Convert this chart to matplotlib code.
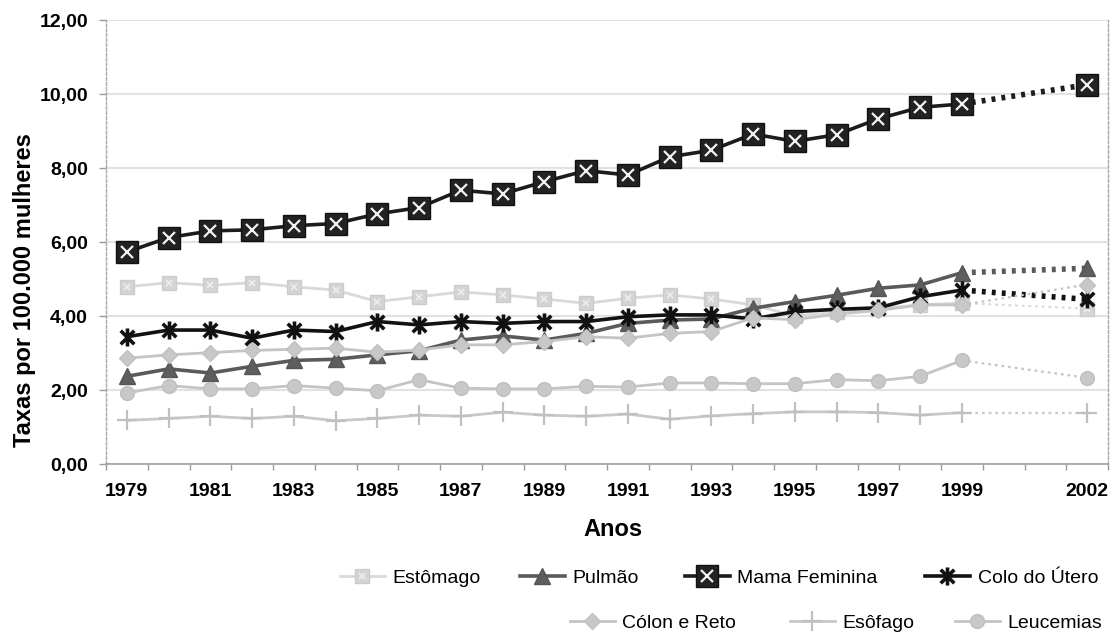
import matplotlib
matplotlib.use("Agg")
import matplotlib.pyplot as plt
from matplotlib.path import Path
from matplotlib.legend_handler import HandlerTuple
from matplotlib.lines import Line2D
import numpy as np

plt.rcParams['font.family'] = ['Liberation Sans', 'DejaVu Sans']

years = [1979, 1980, 1981, 1982, 1983, 1984, 1985, 1986, 1987, 1988, 1989,
         1990, 1991, 1992, 1993, 1994, 1995, 1996, 1997, 1998, 1999, 2002]

estomago = [4.79, 4.90, 4.83, 4.90, 4.79, 4.70, 4.39, 4.52, 4.65, 4.57, 4.46,
            4.34, 4.48, 4.57, 4.46, 4.30, 4.00, 4.10, 4.20, 4.30, 4.35, 4.20]
pulmao = [2.37, 2.57, 2.46, 2.64, 2.80, 2.83, 2.95, 3.06, 3.35, 3.46, 3.35,
          3.53, 3.80, 3.89, 3.92, 4.21, 4.39, 4.56, 4.75, 4.84, 5.17, 5.29]
mama = [5.73, 6.12, 6.30, 6.33, 6.44, 6.50, 6.76, 6.93, 7.40, 7.30, 7.63,
        7.93, 7.81, 8.30, 8.48, 8.92, 8.72, 8.90, 9.33, 9.64, 9.73, 10.25]
colo_utero = [3.44, 3.62, 3.62, 3.40, 3.62, 3.58, 3.85, 3.76, 3.85, 3.80, 3.85,
              3.85, 3.98, 4.03, 4.03, 3.92, 4.12, 4.18, 4.22, 4.52, 4.70, 4.45]
colon_reto = [2.86, 2.95, 3.01, 3.07, 3.10, 3.13, 3.02, 3.08, 3.22, 3.22, 3.31,
              3.44, 3.40, 3.53, 3.58, 3.95, 3.90, 4.05, 4.15, 4.30, 4.30, 4.85]
esofago = [1.18, 1.23, 1.29, 1.23, 1.29, 1.17, 1.23, 1.32, 1.29, 1.40, 1.32,
           1.29, 1.35, 1.21, 1.30, 1.36, 1.41, 1.41, 1.39, 1.32, 1.39, 1.39]
leucemias = [1.92, 2.12, 2.03, 2.03, 2.12, 2.05, 1.98, 2.28, 2.05, 2.03, 2.03,
             2.10, 2.08, 2.19, 2.19, 2.17, 2.17, 2.28, 2.25, 2.37, 2.80, 2.33]

labels = ["Estômago", "Pulmão", "Mama Feminina", "Colo do Útero",
          "Cólon e Reto", "Esôfago", "Leucemias"]
tick_years = [1979, 1981, 1983, 1985, 1987, 1989, 1991, 1993, 1995, 1997, 1999, 2002]
y_ticks = [0, 2, 4, 6, 8, 10, 12]

W, H = 1112, 635
fig = plt.figure(figsize=(W / 100, H / 100), dpi=100)
ax = fig.add_axes([106 / W, 1 - 464 / H, (1108 - 106) / W, (464 - 20) / H])

star = Path([(0, -1), (0, 1), (-0.75, -0.75), (0.75, 0.75), (-0.75, 0.75), (0.75, -0.75)],
            [Path.MOVETO, Path.LINETO, Path.MOVETO, Path.LINETO, Path.MOVETO, Path.LINETO])

series = [
    dict(v=estomago, c='#d9d9d9', lw=2.0, m='s', ms=10, mfc='#d4d4d4', mec='#cccccc', mew=1,
         over=dict(marker='x', ms=5, mec='#eeeeee', mew=1.2), heavy=False),
    dict(v=pulmao, c='#5a5a5a', lw=2.6, m='^', ms=11, mfc='#5e5e5e', mec='#555555', mew=1,
         over=None, heavy=True),
    dict(v=mama, c='#1c1c1c', lw=2.6, m='s', ms=16, mfc='#222222', mec='#111111', mew=1,
         over=dict(marker='x', ms=8, mec='#f2f2f2', mew=1.6), heavy=True),
    dict(v=colo_utero, c='#121212', lw=2.6, m=star, ms=13, mfc='none', mec='#111111', mew=2.6,
         over=None, heavy=True),
    dict(v=colon_reto, c='#c4c4c4', lw=2.0, m='D', ms=8, mfc='#c8c8c8', mec='#c0c0c0', mew=1,
         over=None, heavy=False),
    dict(v=esofago, c='#c8c8c8', lw=2.0, m='+', ms=15, mfc='none', mec='#c0c0c0', mew=1.6,
         over=None, heavy=False),
    dict(v=leucemias, c='#c4c4c4', lw=2.0, m='o', ms=10, mfc='#c8c8c8', mec='#c0c0c0', mew=1,
         over=None, heavy=False),
]

yrs = np.array(years)
main_mask = yrs <= 1999
ext_mask = yrs >= 1999
handles = []
for i, s in enumerate(series):
    v = np.array(s['v'])
    z = 3 + i
    ax.plot(yrs[main_mask], v[main_mask], color=s['c'], lw=s['lw'], zorder=z,
            solid_capstyle='round')
    if s['heavy']:
        ax.plot(yrs[ext_mask], v[ext_mask], color=s['c'], lw=4.0, zorder=z,
                linestyle=(0, (0.7, 1.1)), dash_capstyle='butt')
    else:
        ax.plot(yrs[ext_mask], v[ext_mask], color=s['c'], lw=1.6, zorder=z,
                linestyle=(0, (1.2, 1.8)))
    ax.plot(yrs, v, linestyle='none', marker=s['m'], ms=s['ms'], mfc=s['mfc'],
            mec=s['mec'], mew=s['mew'], zorder=z + 0.1)
    h_main = Line2D([], [], color=s['c'], lw=s['lw'], marker=s['m'], ms=s['ms'],
                    mfc=s['mfc'], mec=s['mec'], mew=s['mew'])
    if s['over'] is not None:
        o = s['over']
        ax.plot(yrs, v, linestyle='none', marker=o['marker'], ms=o['ms'], mec=o['mec'],
                mew=o['mew'], zorder=z + 0.2)
        h_over = Line2D([], [], linestyle='none', marker=o['marker'], ms=o['ms'],
                        mec=o['mec'], mew=o['mew'])
        handles.append((h_main, h_over))
    else:
        handles.append(h_main)

ax.set_xlim(1978.5, 2002.5)
ax.set_ylim(0, 12)
ax.set_yticks(y_ticks)
ax.set_yticklabels([f"{t:.2f}".replace('.', ',') for t in y_ticks],
                   fontsize=14, fontweight='bold')
ax.set_xticks(tick_years)
ax.set_xticklabels([str(t) for t in tick_years], fontsize=14, fontweight='bold')
ax.set_xticks(np.arange(1978.5, 2003, 1.0), minor=True)
ax.tick_params(axis='x', which='major', length=0, pad=14)
ax.tick_params(axis='x', which='minor', length=4, color='#9a9a9a', width=1)
ax.tick_params(axis='y', which='major', length=5, color='#9a9a9a', width=1, pad=8)

ax.grid(axis='y', color='#e2e2e2', lw=1.5, zorder=0)
ax.set_axisbelow(True)
for side in ['left', 'right']:
    ax.spines[side].set_color('#a8a8a8')
    ax.spines[side].set_linestyle((0, (2, 1.5)))
    ax.spines[side].set_linewidth(1.0)
ax.spines['bottom'].set_color('#a0a0a0')
ax.spines['bottom'].set_linewidth(1.2)
ax.spines['top'].set_visible(False)

fig.text(25 / W, 1 - 290 / H, "Taxas por 100.000 mulheres", rotation=90,
         fontsize=17, fontweight='bold', ha='center', va='center')
fig.text(613 / W, 1 - 530 / H, "Anos", fontsize=17, fontweight='bold',
         ha='center', va='center')

# legend entries: (index, x of handle start, y center)
leg_pos = [(0, 340, 578), (1, 520, 578), (2, 685, 578), (3, 925, 578),
           (4, 570, 623), (5, 790, 623), (6, 955, 623)]
for idx, x0, y0 in leg_pos:
    fig.legend(handles=[handles[idx]], labels=[labels[idx]], loc='center left',
               bbox_to_anchor=(x0 / W, 1 - y0 / H), frameon=False, fontsize=14,
               handlelength=2.3, handletextpad=0.4, borderpad=0, borderaxespad=0,
               handler_map={tuple: HandlerTuple(ndivide=1)})

fig.savefig("out.png", dpi=100)
